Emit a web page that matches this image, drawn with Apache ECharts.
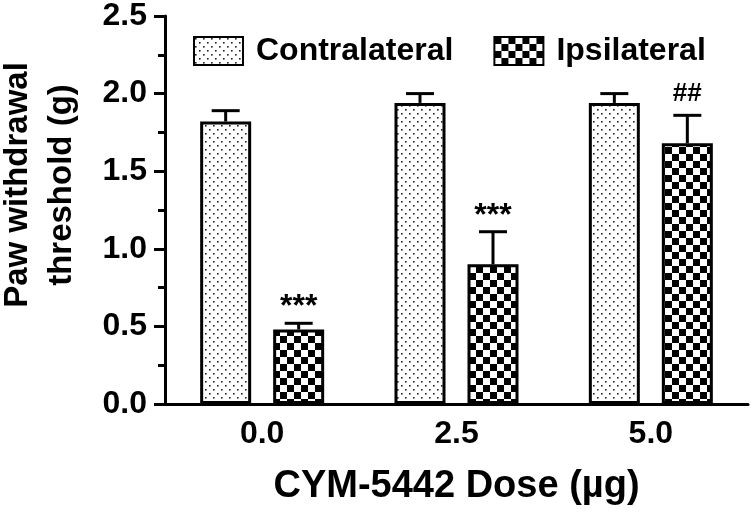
<!DOCTYPE html>
<html>
<head>
<meta charset="utf-8">
<script src="https://cdn.jsdelivr.net/npm/echarts@6/dist/echarts.min.js"></script>
<style>html,body{margin:0;padding:0;background:#fff}#c{width:752px;height:513px}</style>
</head>
<body>
<div id="c"></div>
<script>
// ---- data ----
var categories = ['0.0', '2.5', '5.0'];
var seriesNames = ['Contralateral', 'Ipsilateral'];
var contraMean = [1.82, 1.94, 1.94];
var contraSEM = [0.07, 0.06, 0.06];
var ipsiMean = [0.48, 0.90, 1.68];
var ipsiSEM = [0.04, 0.21, 0.18];
var contraMarks = ['', '', ''];
var ipsiMarks = ['***', '***', '##'];
var yTicks = [0, 0.5, 1.0, 1.5, 2.0, 2.5];
var xTitle = 'CYM-5442 Dose (µg)';
var yTitle = ['Paw withdrawal', 'threshold (g)'];

// ---- style ----
var FONT = '"Liberation Sans", Arial, sans-serif';
var BAR_W = 51, BAR_GAP = 22;
var OFFSET = (BAR_W + BAR_GAP) / 2;

function dotPattern() {
  var c = document.createElement('canvas');
  c.width = 8; c.height = 8;
  var g = c.getContext('2d');
  g.fillStyle = '#fff'; g.fillRect(0, 0, 8, 8);
  g.fillStyle = '#222';
  g.fillRect(1, 1, 1.6, 1.6);
  g.fillRect(5, 5, 1.6, 1.6);
  return c;
}
function checkPattern() {
  var c = document.createElement('canvas');
  c.width = 14; c.height = 14;
  var g = c.getContext('2d');
  g.fillStyle = '#fff'; g.fillRect(0, 0, 14, 14);
  g.fillStyle = '#000';
  g.fillRect(0, 0, 7, 7);
  g.fillRect(7, 7, 7, 7);
  return c;
}
var dotFill = { image: dotPattern(), repeat: 'repeat' };
var checkFill = { image: checkPattern(), repeat: 'repeat' };

function errData(mean, sem) {
  return mean.map(function (m, i) { return [i, m, sem[i]]; });
}

function errRender(sign, marks) {
  return function (params, api) {
    var i = api.value(0);
    var m = api.value(1);
    var e = api.value(2);
    var mark = marks[params.dataIndex];
    var base = api.coord([i, m]);
    var top = api.coord([i, m + e]);
    var x = base[0] + sign * OFFSET;
    var children = [
      { type: 'line', shape: { x1: x, y1: base[1], x2: x, y2: top[1] }, style: { stroke: '#000', lineWidth: 3 } },
      { type: 'line', shape: { x1: x - 14, y1: top[1], x2: x + 14, y2: top[1] }, style: { stroke: '#000', lineWidth: 3 } }
    ];
    if (mark) {
      var isStar = mark.indexOf('*') >= 0;
      children.push({
        type: 'text',
        style: {
          text: mark, x: x, y: top[1] - (isStar ? 16 : 21),
          align: 'center', verticalAlign: 'middle',
          font: 'bold ' + (isStar ? 32 : 26) + 'px ' + FONT, fill: '#000'
        }
      });
    }
    return { type: 'group', children: children };
  };
}

var chart = echarts.init(document.getElementById('c'), null, { renderer: 'canvas' });
chart.setOption({
  animation: false,
  backgroundColor: '#fff',
  grid: { left: 165, right: 4, top: 15, bottom: 109, containLabel: false },
  legend: {
    data: seriesNames,
    left: 188, top: 30,
    icon: 'rect',
    itemWidth: 49, itemHeight: 28, itemGap: 40,
    textStyle: { fontFamily: FONT, fontWeight: 'bold', fontSize: 32, color: '#000', padding: [0, 0, 0, 8] }
  },
  xAxis: {
    type: 'category',
    data: categories,
    name: xTitle,
    nameLocation: 'middle',
    nameGap: 64,
    nameTextStyle: { fontFamily: FONT, fontWeight: 'bold', fontSize: 38, color: '#000' },
    axisLine: { lineStyle: { color: '#000', width: 3 } },
    axisTick: { alignWithLabel: true, length: 9, lineStyle: { color: '#000', width: 3 } },
    axisLabel: { fontFamily: FONT, fontWeight: 'bold', fontSize: 32, color: '#000', margin: 14 },
    splitLine: { show: false }
  },
  yAxis: {
    type: 'value',
    min: yTicks[0], max: yTicks[yTicks.length - 1], interval: yTicks[1] - yTicks[0],
    axisLine: { show: true, lineStyle: { color: '#000', width: 3 } },
    axisTick: { show: true, length: 11, lineStyle: { color: '#000', width: 3 } },
    minorTick: { show: true, splitNumber: 2, length: 7, lineStyle: { color: '#000', width: 3 } },
    axisLabel: { fontFamily: FONT, fontWeight: 'bold', fontSize: 32, color: '#000', margin: 18,
      formatter: function (v) { return v.toFixed(1); } },
    splitLine: { show: false }
  },
  graphic: [{
    type: 'text',
    x: 40, y: 185,
    rotation: Math.PI / 2,
    style: {
      text: yTitle.join('\n'),
      x: 0, y: 0,
      align: 'center', verticalAlign: 'middle',
      lineHeight: 44,
      font: 'bold 33px ' + FONT, fill: '#000'
    }
  }],
  series: [
    {
      name: seriesNames[0], type: 'bar', data: contraMean,
      barWidth: BAR_W, barGap: (BAR_GAP / BAR_W * 100) + '%',
      itemStyle: { color: dotFill, borderColor: '#000', borderWidth: 3 }
    },
    {
      name: seriesNames[1], type: 'bar', data: ipsiMean,
      barWidth: BAR_W,
      itemStyle: { color: checkFill, borderColor: '#000', borderWidth: 3 }
    },
    {
      type: 'custom', renderItem: errRender(-1, contraMarks), data: errData(contraMean, contraSEM),
      encode: { x: 0, y: 1 }, z: 5, silent: true
    },
    {
      type: 'custom', renderItem: errRender(1, ipsiMarks), data: errData(ipsiMean, ipsiSEM),
      encode: { x: 0, y: 1 }, z: 5, silent: true
    }
  ]
});
</script>
</body>
</html>
